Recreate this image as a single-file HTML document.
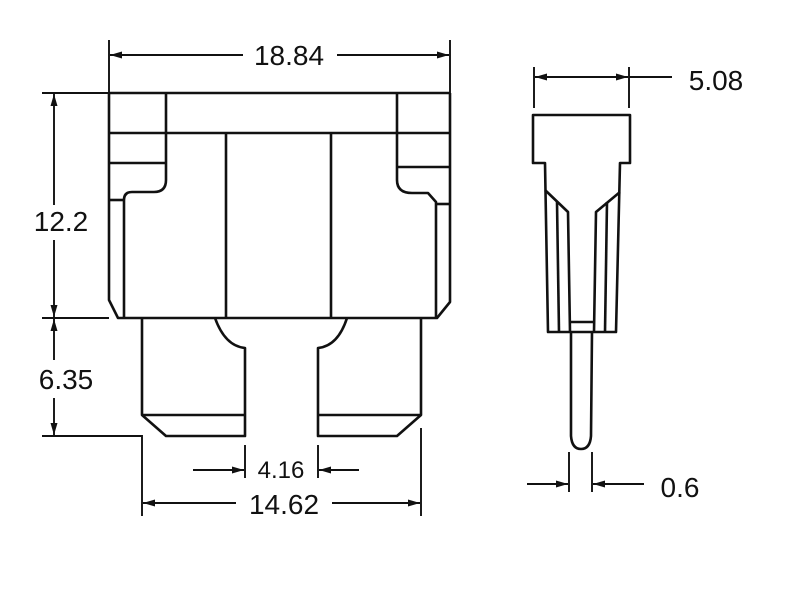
<!DOCTYPE html>
<html><head><style>html,body{margin:0;padding:0;background:#fff}svg{display:block}</style></head>
<body>
<svg width="797" height="610" viewBox="0 0 797 610" xmlns="http://www.w3.org/2000/svg">
<defs>
<marker id="a" markerWidth="12" markerHeight="8" refX="12" refY="4" orient="auto" markerUnits="userSpaceOnUse">
<path d="M0,0.5 L12,4 L0,7.5 Z" fill="#111"/></marker>
</defs>
<g fill="none" stroke="#111" stroke-width="2.6" stroke-linejoin="round">
<path d="M109,93 L450,93"/>
<path d="M109,133 L450,133"/>
<path d="M109,93 L109,300 L118,318 L437,318 L450,302 L450,93"/>
<path d="M166,93 L166,180 Q166,192 154,192 L132,192 Q124,192 124,200 L124,318"/>
<path d="M109,163 L166,163"/>
<path d="M109,200 L124,200"/>
<path d="M397,93 L397,180 Q397,193 412,193 L428,193 L436,202 L436,318"/>
<path d="M397,167 L450,167"/>
<path d="M436,204 L450,204"/>
<path d="M226,133 L226,318"/>
<path d="M331,133 L331,318"/>
<path d="M142,318 L142,415 L166,436 L245,436 L245,348 Q225,346 215,318"/>
<path d="M142,415 L245,415"/>
<path d="M421,318 L421,415 L397,436 L318,436 L318,348 Q338,346 347,318"/>
<path d="M318,415 L421,415"/>
<path d="M533,115 L630,115 L630,163 L620,163 L616,332 L548,332 L545,163 L533,163 Z"/>
<path d="M545,190 L568,212 L570,332"/>
<path d="M620,192 L596,212 L594,332"/>
<path d="M557,202 L559,332"/>
<path d="M607,202 L605,332"/>
<path d="M570,322 L594,322"/>
<path d="M571,332 L571,436 Q572,449 581,449 Q590,449 591,436 L592,332"/>
</g>
<g fill="none" stroke="#111" stroke-width="1.9">
<path d="M109,40 L109,93 M450,40 L450,93"/>
<path d="M243,55 L110,55" marker-end="url(#a)"/>
<path d="M337,55 L449,55" marker-end="url(#a)"/>
<path d="M42,93 L109,93 M42,318 L109,318 M42,436 L142,436 L142,516 M421,428 L421,516"/>
<path d="M54,240 L54,317" marker-end="url(#a)"/>
<path d="M54,205 L54,94" marker-end="url(#a)"/>
<path d="M54,360 L54,319" marker-end="url(#a)"/>
<path d="M54,398 L54,435" marker-end="url(#a)"/>
<path d="M245,445 L245,478 M318,445 L318,478"/>
<path d="M193,470 L244,470" marker-end="url(#a)"/>
<path d="M359,470 L319,470" marker-end="url(#a)"/>
<path d="M236,503 L143,503" marker-end="url(#a)"/>
<path d="M332,503 L420,503" marker-end="url(#a)"/>
<path d="M534,67 L534,108 M629,67 L629,108"/>
<path d="M580,77 L535,77" marker-end="url(#a)"/>
<path d="M580,77 L628,77" marker-end="url(#a)"/>
<path d="M629,77 L672,77"/>
<path d="M569,452 L569,492 M592,452 L592,492"/>
<path d="M527,484 L568,484" marker-end="url(#a)"/>
<path d="M644,484 L593,484" marker-end="url(#a)"/>
</g>
<g font-family="Liberation Sans, sans-serif" fill="#111">
<text x="289" y="65" font-size="28" text-anchor="middle">18.84</text>
<text x="61" y="231" font-size="28" text-anchor="middle">12.2</text>
<text x="66" y="389" font-size="28" text-anchor="middle">6.35</text>
<text x="281" y="478" font-size="24" text-anchor="middle">4.16</text>
<text x="284" y="514" font-size="28" text-anchor="middle">14.62</text>
<text x="716" y="90" font-size="28" text-anchor="middle">5.08</text>
<text x="680" y="497" font-size="28" text-anchor="middle">0.6</text>
</g>
</svg>
</body></html>
